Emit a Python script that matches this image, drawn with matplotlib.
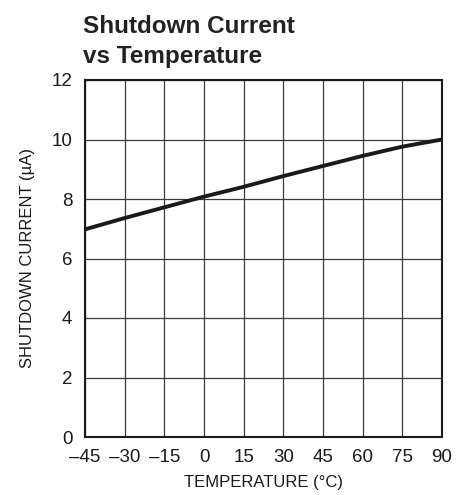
import matplotlib
matplotlib.use("Agg")
import matplotlib.pyplot as plt
from matplotlib import font_manager

# pick a narrow font if we have one
names = set(f.name for f in font_manager.fontManager.ttflist)
fam = ['Liberation Sans Narrow', 'Liberation Sans', 'DejaVu Sans']
fam = [f for f in fam if f in names] + ['DejaVu Sans']
plt.rcParams['font.family'] = fam
plt.rcParams['axes.unicode_minus'] = True

temp = [-45, -30, -15, 0, 15, 30, 45, 60, 75, 90]
current = [6.98, 7.36, 7.72, 8.08, 8.41, 8.77, 9.11, 9.45, 9.76, 10.0]
xticks = [-45, -30, -15, 0, 15, 30, 45, 60, 75, 90]
yticks = [0, 2, 4, 6, 8, 10, 12]
title_lines = ['Shutdown Current', 'vs Temperature']

fig = plt.figure(figsize=(4.66, 4.95), dpi=100)
ax = fig.add_axes([85/466, 1 - 437/495, 357/466, 357/495])

ax.plot(temp, current, color='#1a1a1a', lw=2.8, solid_capstyle='butt', zorder=3)

ax.set_xlim(-45, 90)
ax.set_ylim(0, 12)
ax.set_xticks(xticks)
ax.set_yticks(yticks)
ax.set_xticklabels([str(t).replace('-', '\u2013') for t in xticks])
ax.grid(True, color='#3a3a3a', lw=0.9)
ax.tick_params(length=0, labelsize=13.5, colors='#1a1a1a', pad=9)
for s in ax.spines.values():
    s.set_linewidth(1.5)
    s.set_color('#1a1a1a')
    s.set_zorder(4)

ax.set_xlabel('TEMPERATURE (°C)', fontsize=12, color='#1a1a1a', labelpad=6)
ax.set_ylabel('SHUTDOWN CURRENT (µA)', fontsize=12, color='#1a1a1a', labelpad=12)

for i, line in enumerate(title_lines):
    fig.text(83/466, 1 - (33 + 30*i)/495, line, fontsize=17.5,
             fontweight='bold', color='#222222', ha='left', va='baseline')

fig.savefig('out.png', dpi=100)
